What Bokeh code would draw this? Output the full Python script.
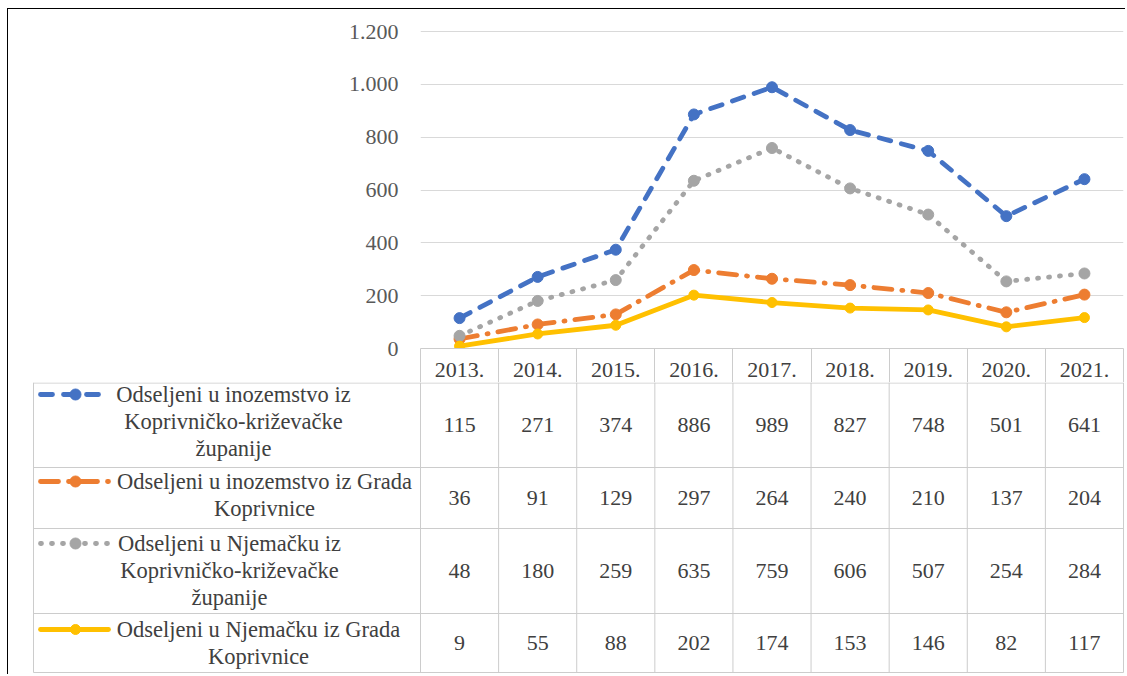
from bokeh.plotting import figure
from bokeh.layouts import column
from bokeh.models import Range1d, FixedTicker
from bokeh.embed import file_html
from bokeh.resources import INLINE
from bokeh.core.properties import value

# ---------------- data ----------------
years = ["2013.", "2014.", "2015.", "2016.", "2017.", "2018.", "2019.", "2020.", "2021."]
county_abroad = [115, 271, 374, 886, 989, 827, 748, 501, 641]
city_abroad = [36, 91, 129, 297, 264, 240, 210, 137, 204]
county_germany = [48, 180, 259, 635, 759, 606, 507, 254, 284]
city_germany = [9, 55, 88, 202, 174, 153, 146, 82, 117]
series_labels = [
    ["Odseljeni u inozemstvo iz", "Koprivničko-križevačke", "županije"],
    ["Odseljeni u inozemstvo iz Grada", "Koprivnice"],
    ["Odseljeni u Njemačku iz", "Koprivničko-križevačke", "županije"],
    ["Odseljeni u Njemačku iz Grada", "Koprivnice"],
]
y_ticks = [0, 200, 400, 600, 800, 1000, 1200]
y_tick_labels = ["0", "200", "400", "600", "800", "1.000", "1.200"]

# ---------------- styles ----------------
FONT = "Liberation Serif"
TXT = "#404040"
GRID = "#d9d9d9"
BORDER = "#cccccc"
styles = [
    dict(color="#4472C4", dash="12 11", width=4.8, size=11),
    dict(color="#ED7D31", dash="18 10 1 10", width=4.8, size=11),
    dict(color="#A5A5A5", dash="1 10", width=4.8, size=11),
    dict(color="#FFC000", dash="solid", width=4.8, size=10),
]
series = [county_abroad, city_abroad, county_germany, city_germany]

OX, OY = 8, 9            # page position of the canvas origin
W = 1117
FRAME_L, FRAME_R = 420, 1123   # page x of plot area
LEFT = FRAME_L - OX
RIGHT = OX + W - FRAME_R
FRAME_W = FRAME_R - FRAME_L
n = len(years)
cw = FRAME_W / n

# ---------------- chart ----------------
ZERO_Y, TOP_TICK_Y = 348, 31
HA = 382 - OY
frame_h = ZERO_Y - OY
HEADER_H = HA - frame_h
y_top = 1200 * frame_h / float(ZERO_Y - TOP_TICK_Y)
pa = figure(width=W, height=HA, x_range=Range1d(0, n), y_range=Range1d(0, y_top),
            output_backend="svg", toolbar_location=None,
            min_border_left=LEFT, min_border_right=RIGHT, min_border_top=0,
            min_border_bottom=HEADER_H)
pa.outline_line_color = None
pa.xgrid.visible = False
pa.ygrid.grid_line_color = GRID
pa.ygrid.grid_line_width = 1

yax = pa.yaxis[0]
yax.ticker = FixedTicker(ticks=y_ticks)
yax.major_label_overrides = {t: l for t, l in zip(y_ticks, y_tick_labels)}
yax.axis_line_color = None
yax.major_tick_line_color = None
yax.minor_tick_line_color = None
yax.major_tick_out = 0
yax.major_tick_in = 0
yax.major_label_standoff = 22
yax.major_label_text_font = FONT
yax.major_label_text_font_size = "22px"
yax.major_label_text_color = "#595959"

xs = [i + 0.5 for i in range(n)]
xax = pa.xaxis[0]
xax.ticker = FixedTicker(ticks=xs, minor_ticks=list(range(n + 1)))
xax.major_label_overrides = {x: y for x, y in zip(xs, years)}
xax.axis_line_color = BORDER
xax.major_tick_line_color = None
xax.major_tick_out = 0
xax.major_tick_in = 0
xax.minor_tick_line_color = BORDER
xax.minor_tick_in = 0
xax.minor_tick_out = HEADER_H
xax.major_label_standoff = -20
xax.major_label_text_font = FONT
xax.major_label_text_font_size = "22px"
xax.major_label_text_color = TXT

for vals, st in zip(series, styles):
    pa.line(xs, vals, line_color=st["color"], line_width=st["width"],
            line_dash=st["dash"], line_cap="round", line_join="round")
    pa.scatter(xs, vals, size=st["size"], fill_color=st["color"], line_color=st["color"])

# ---------------- table ----------------
TABLE_TOP = 382
HB = 674 - TABLE_TOP
pb = figure(width=W, height=HB,
            x_range=Range1d((OX - FRAME_L) / cw, (OX + W - FRAME_L) / cw),
            y_range=Range1d(HB, 0),
            output_backend="svg", toolbar_location=None,
            x_axis_location=None, y_axis_location=None,
            min_border=0, min_border_left=0, min_border_right=0,
            min_border_top=0, min_border_bottom=0)
pb.outline_line_color = None
pb.grid.visible = False
for p in (pa, pb):
    p.frame_align = False

def px(page_x):
    return (page_x - FRAME_L) / cw

def py(page_y):
    return page_y - TABLE_TOP

row_edges = [py(382.5), py(467), py(528), py(613), py(672)]
leg_left = px(33)
pb.segment(x0=[leg_left] * len(row_edges), y0=row_edges, x1=[n] * len(row_edges), y1=row_edges,
           line_color=BORDER, line_width=1)
vx = [leg_left] + list(range(n + 1))
pb.segment(x0=vx, y0=[0] * len(vx), x1=vx, y1=[row_edges[-1]] * len(vx),
           line_color=BORDER, line_width=1)

row_centers = [(row_edges[i] + row_edges[i + 1]) / 2 for i in range(4)]
line_ys = [[394, 421, 448], [481, 508], [543, 570, 597], [629, 656]]
text_centers = [233, 264, 229, 258]

for r, (vals, st) in enumerate(zip(series, styles)):
    pb.text(x=xs, y=[row_centers[r]] * n, text=[str(v) for v in vals],
            text_align="center", text_baseline="middle",
            text_font=value(FONT), text_font_size="22px", text_color=TXT)
    lines = series_labels[r]
    pb.text(x=[px(text_centers[r])] * len(lines), y=[py(v) for v in line_ys[r]], text=lines,
            text_align="center", text_baseline="middle",
            text_font=value(FONT), text_font_size="22.5px", text_color=TXT)
    ky = py(line_ys[r][0])
    pb.line([px(40), px(108)], [ky, ky], line_color=st["color"], line_width=st["width"],
            line_dash=st["dash"], line_cap="round")
    pb.scatter([px(75)], [ky], size=st["size"], fill_color=st["color"], line_color=st["color"])

layout = column(pa, pb, spacing=0,
                styles={"border-top": "1px solid black", "border-left": "1px solid black",
                        "margin-left": "7px", "margin-top": "8px"})

open("out.html", "w").write(file_html(layout, INLINE))
